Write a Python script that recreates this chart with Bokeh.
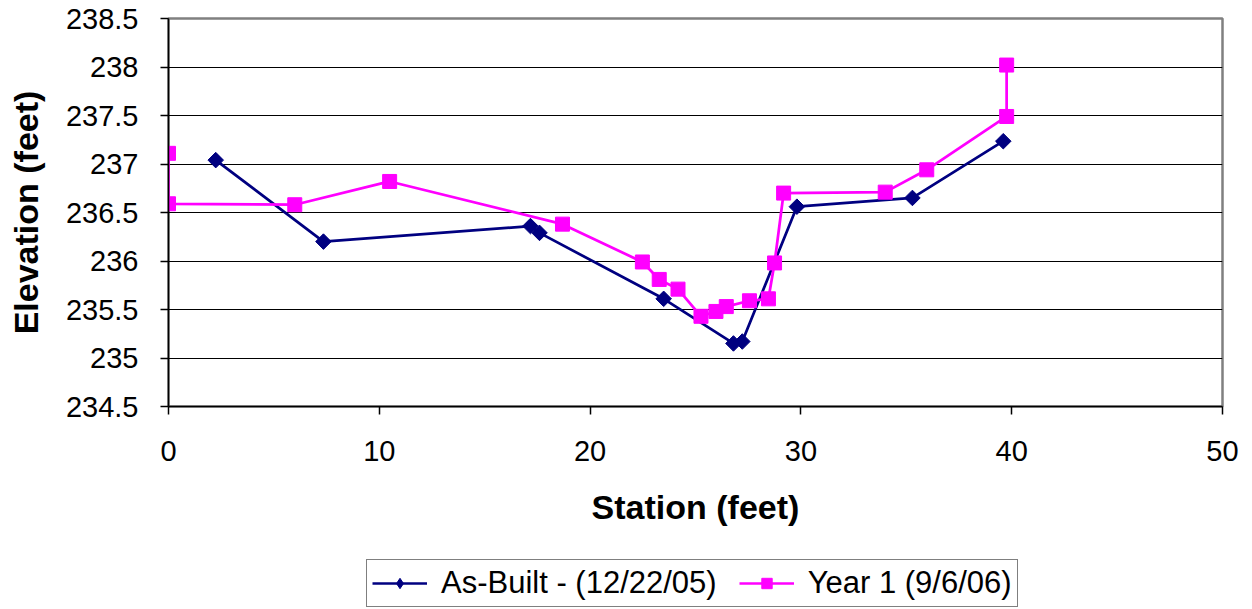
import numpy as np
from bokeh.plotting import figure
from bokeh.layouts import column
from bokeh.models import Range1d, FixedTicker, Legend, LegendItem
from bokeh.embed import file_html
from bokeh.resources import INLINE

# Data
asbuilt_station = [2.24, 7.35, 17.17, 17.6, 23.49, 26.8, 27.22, 29.81, 35.29, 39.6]
asbuilt_elev = [237.04, 236.20, 236.36, 236.29, 235.61, 235.15, 235.17, 236.56, 236.65, 237.235]

year1_station = [0.0, 0.0, 5.99, 10.49, 18.69, 22.48, 23.28, 24.17, 25.26, 25.97,
                 26.46, 27.56, 28.46, 28.75, 29.18, 34.0, 35.97, 39.76, 39.76]
year1_elev = [237.11, 236.59, 236.58, 236.82, 236.38, 235.99, 235.81, 235.71, 235.43, 235.48,
              235.53, 235.59, 235.61, 235.98, 236.70, 236.71, 236.94, 237.49, 238.02]

x_ticks = [0, 10, 20, 30, 40, 50]
y_ticks = [234.5, 235, 235.5, 236, 236.5, 237, 237.5, 238, 238.5]
y_tick_labels = ["234.5", "235", "235.5", "236", "236.5", "237", "237.5", "238", "238.5"]

series_names = ["As-Built - (12/22/05)", "Year 1 (9/6/06)"]

FONT = "Liberation Sans"
navy = "#000080"
magenta = "#FF00FF"

p = figure(width=1252, height=546, frame_width=1054, frame_height=388,
           min_border_left=168, min_border_top=18, min_border_right=30, min_border_bottom=140,
           output_backend="svg", toolbar_location=None,
           x_range=Range1d(0, 50), y_range=Range1d(234.5, 238.5))

p.background_fill_color = "white"
p.border_fill_color = "white"
p.outline_line_color = "#808080"
p.outline_line_width = 2.5

# grid
p.xgrid.visible = False
p.ygrid.ticker = FixedTicker(ticks=y_ticks)
p.ygrid.grid_line_color = "black"
p.ygrid.grid_line_width = 1

# axes
p.xaxis.ticker = FixedTicker(ticks=x_ticks)
p.yaxis.ticker = FixedTicker(ticks=y_ticks)
p.yaxis.major_label_overrides = {t: l for t, l in zip(y_ticks, y_tick_labels)}
for ax in (p.xaxis, p.yaxis):
    ax.axis_line_color = "black"
    ax.axis_line_width = 1.5
    ax.major_tick_line_color = "black"
    ax.major_tick_line_width = 1.5
    ax.major_tick_in = 0
    ax.major_tick_out = 8
    ax.minor_tick_line_color = None
    ax.major_label_text_font = FONT
    ax.major_label_text_font_size = "29px"
    ax.major_label_text_color = "black"
    ax.axis_label_text_font = FONT
    ax.axis_label_text_font_size = "34px"
    ax.axis_label_text_font_style = "bold"
    ax.axis_label_text_color = "black"

p.xaxis.axis_label = "Station (feet)"
p.yaxis.axis_label = "Elevation (feet)"
p.xaxis.major_label_standoff = 26
p.xaxis.axis_label_standoff = 24
p.yaxis.major_label_standoff = 22
p.yaxis.axis_label_standoff = 18

# series
p.line(asbuilt_station, asbuilt_elev, line_color=navy, line_width=2.75)
p.scatter(asbuilt_station, asbuilt_elev, marker="square", angle=np.pi / 4,
          size=11, fill_color=navy, line_color=navy)
p.line(year1_station, year1_elev, line_color=magenta, line_width=2.75)
p.scatter(year1_station, year1_elev, marker="square", size=14,
          fill_color=magenta, line_color=magenta)

# legend strip below the chart (its glyph renderers lie outside this strip's ranges)
p2 = figure(width=1252, height=63, min_border=0, output_backend="svg", toolbar_location=None,
            x_range=Range1d(1000, 1001), y_range=Range1d(0, 1))
p2.axis.visible = False
p2.grid.visible = False
p2.outline_line_color = None
p2.background_fill_color = "white"
p2.border_fill_color = "white"

lg1 = p2.line(asbuilt_station, asbuilt_elev, line_color=navy, line_width=2.5)
mg1 = p2.scatter(asbuilt_station, asbuilt_elev, marker="diamond", size=12,
                 fill_color=navy, line_color=navy)
lg2 = p2.line(year1_station, year1_elev, line_color=magenta, line_width=2.5)
mg2 = p2.scatter(year1_station, year1_elev, marker="square", size=10,
                 fill_color=magenta, line_color=magenta)

legend = Legend(items=[LegendItem(label=series_names[0], renderers=[lg1, mg1]),
                       LegendItem(label=series_names[1], renderers=[lg2, mg2])],
                orientation="horizontal", location=(198, 2))
legend.label_text_font = FONT
legend.label_text_font_size = "31px"
legend.label_text_color = "black"
legend.border_line_color = "black"
legend.border_line_width = 1
legend.background_fill_color = "white"
legend.padding = 5
legend.spacing = 22
legend.glyph_width = 55
legend.glyph_height = 26
legend.label_standoff = 14
legend.margin = 0
p2.add_layout(legend, "center")

layout = column(p, p2, spacing=0)

open("out.html", "w").write(file_html(layout, INLINE))
